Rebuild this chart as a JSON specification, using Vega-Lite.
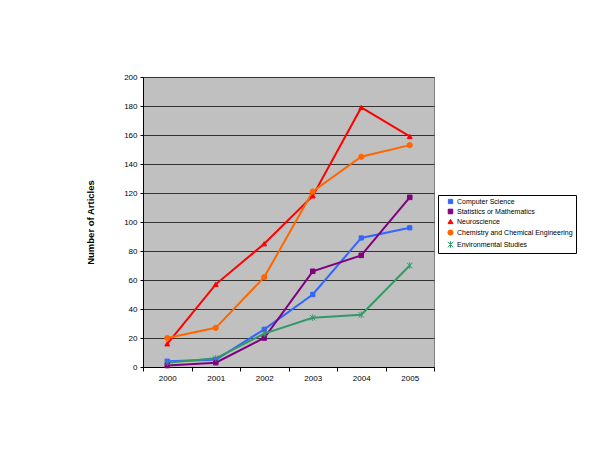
{
  "$schema": "https://vega.github.io/schema/vega-lite/v6.json",
  "width": 291,
  "height": 290,
  "autosize": {"type": "none"},
  "padding": {"left": 143, "top": 77, "right": 166, "bottom": 83},
  "background": "white",
  "config": {
    "font": "Liberation Sans",
    "view": {"fill": "#C0C0C0", "stroke": "#808080", "strokeWidth": 1}
  },
  "data": {
    "values": [
      {"year": "2000", "field": "Computer Science", "articles": 4},
      {"year": "2001", "field": "Computer Science", "articles": 5},
      {"year": "2002", "field": "Computer Science", "articles": 26},
      {"year": "2003", "field": "Computer Science", "articles": 50},
      {"year": "2004", "field": "Computer Science", "articles": 89},
      {"year": "2005", "field": "Computer Science", "articles": 96},
      {"year": "2000", "field": "Statistics or Mathematics", "articles": 1},
      {"year": "2001", "field": "Statistics or Mathematics", "articles": 3},
      {"year": "2002", "field": "Statistics or Mathematics", "articles": 20},
      {"year": "2003", "field": "Statistics or Mathematics", "articles": 66},
      {"year": "2004", "field": "Statistics or Mathematics", "articles": 77},
      {"year": "2005", "field": "Statistics or Mathematics", "articles": 117},
      {"year": "2000", "field": "Neuroscience", "articles": 16},
      {"year": "2001", "field": "Neuroscience", "articles": 57},
      {"year": "2002", "field": "Neuroscience", "articles": 85},
      {"year": "2003", "field": "Neuroscience", "articles": 118},
      {"year": "2004", "field": "Neuroscience", "articles": 179},
      {"year": "2005", "field": "Neuroscience", "articles": 159},
      {"year": "2000", "field": "Chemistry and Chemical Engineering", "articles": 20},
      {"year": "2001", "field": "Chemistry and Chemical Engineering", "articles": 27},
      {"year": "2002", "field": "Chemistry and Chemical Engineering", "articles": 62},
      {"year": "2003", "field": "Chemistry and Chemical Engineering", "articles": 121},
      {"year": "2004", "field": "Chemistry and Chemical Engineering", "articles": 145},
      {"year": "2005", "field": "Chemistry and Chemical Engineering", "articles": 153},
      {"year": "2000", "field": "Environmental Studies", "articles": 3},
      {"year": "2001", "field": "Environmental Studies", "articles": 6},
      {"year": "2002", "field": "Environmental Studies", "articles": 23},
      {"year": "2003", "field": "Environmental Studies", "articles": 34},
      {"year": "2004", "field": "Environmental Studies", "articles": 36},
      {"year": "2005", "field": "Environmental Studies", "articles": 70}
    ]
  },
  "encoding": {
    "x": {
      "field": "year",
      "type": "ordinal",
      "scale": {"type": "band", "paddingInner": 0, "paddingOuter": 0},
      "axis": {
        "title": null,
        "labelAngle": 0,
        "tickBand": "extent",
        "tickSize": 4,
        "tickColor": "black",
        "domainColor": "black",
        "labelFontSize": 8,
        "labelColor": "black",
        "labelPadding": 3
      }
    },
    "y": {
      "field": "articles",
      "type": "quantitative",
      "scale": {"domain": [0, 200], "nice": false},
      "axis": {
        "values": [0, 20, 40, 60, 80, 100, 120, 140, 160, 180, 200],
        "title": "Number of Articles",
        "titleFontSize": 9.5,
        "titleFontWeight": "bold",
        "titleColor": "black",
        "titlePadding": 28,
        "grid": true,
        "gridColor": "#333333",
        "gridWidth": 1,
        "gridOpacity": 1,
        "tickSize": 3,
        "tickColor": "black",
        "domainColor": "black",
        "labelFontSize": 8,
        "labelColor": "black",
        "labelPadding": 3
      }
    }
  },
  "layer": [
    {
      "mark": {"type": "line", "strokeWidth": 2},
      "encoding": {
        "color": {
          "field": "field",
          "type": "nominal",
          "scale": {
            "domain": ["Computer Science", "Statistics or Mathematics", "Neuroscience", "Chemistry and Chemical Engineering", "Environmental Studies"],
            "range": ["#3366FF", "#800080", "#FF0000", "#FF6600", "#339966"]
          },
          "legend": {
            "title": null,
            "orient": "none",
            "legendX": 295,
            "legendY": 118,
            "symbolSize": 40,
            "symbolStrokeWidth": 1,
            "symbolOffset": 6,
            "labelFontSize": 7,
            "labelColor": "black",
            "labelOffset": 3,
            "rowPadding": 1,
            "padding": 3,
            "strokeColor": "black",
            "fillColor": "white",
            "labelLimit": 200
          }
        }
      }
    },
    {
      "mark": {"type": "point", "filled": true, "opacity": 1, "strokeWidth": 1},
      "encoding": {
        "color": {"field": "field", "type": "nominal", "legend": null},
        "stroke": {"field": "field", "type": "nominal", "legend": null,
          "scale": {
            "domain": ["Computer Science", "Statistics or Mathematics", "Neuroscience", "Chemistry and Chemical Engineering", "Environmental Studies"],
            "range": ["#3366FF", "#800080", "#FF0000", "#FF6600", "#339966"]
          }
        },
        "shape": {
          "field": "field",
          "type": "nominal",
          "legend": null,
          "scale": {
            "domain": ["Computer Science", "Statistics or Mathematics", "Neuroscience", "Chemistry and Chemical Engineering", "Environmental Studies"],
            "range": ["square", "square", "triangle-up", "circle", "M-1,-1L1,1M-1,1L1,-1M0,-1.2L0,1.2"]
          }
        },
        "size": {
          "field": "field",
          "type": "ordinal",
          "legend": null,
          "scale": {
            "domain": ["Computer Science", "Statistics or Mathematics", "Neuroscience", "Chemistry and Chemical Engineering", "Environmental Studies"],
            "range": [18, 30, 70, 35, 45]
          }
        }
      }
    }
  ]
}
